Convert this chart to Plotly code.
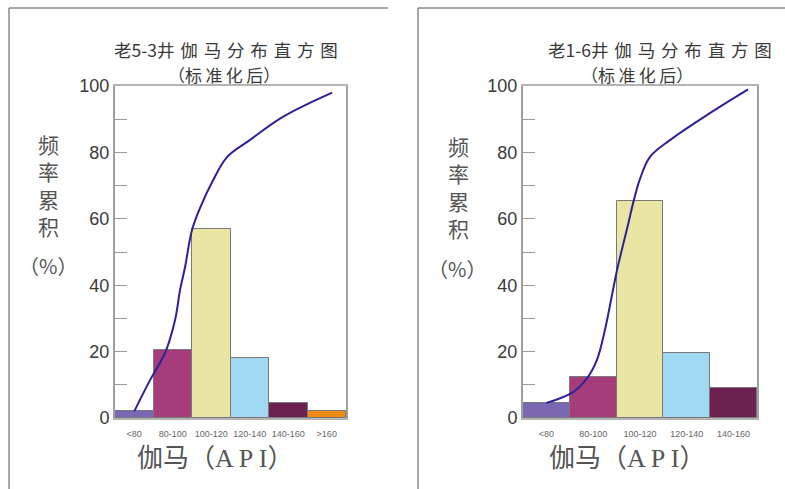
import plotly.graph_objects as go

# 老5-3井 gamma histogram (standardised)
left_categories = ["<80", "80-100", "100-120", "120-140", "140-160", ">160"]
left_freq = [2, 20.5, 57, 18, 4.5, 2]
left_colors = ["#7a68b2", "#a63c7c", "#e9e6a3", "#a2d9f2", "#6c2150", "#ef8a12"]
left_cum_x = [0, 0.41, 0.80, 1.06, 1.19, 1.32, 1.5, 1.71, 2.05, 2.41, 3.0, 3.86, 5.14]
left_cum_y = [2, 11.4, 19.6, 29.5, 38.6, 45.5, 56.6, 63.3, 71.7, 78.6, 83.7, 90.7, 98]

# 老1-6井 gamma histogram (standardised)
right_categories = ["<80", "80-100", "100-120", "120-140", "140-160"]
right_freq = [4.5, 12.3, 65.5, 19.6, 9]
right_colors = ["#7a68b2", "#a63c7c", "#e9e6a3", "#a2d9f2", "#6c2150"]
right_cum_x = [0, 0.57, 0.87, 1.08, 1.25, 1.51, 1.74, 1.87, 2.0, 2.21, 2.64, 3.5, 4.31]
right_cum_y = [4.5, 7.8, 12, 17.5, 26.5, 44.6, 58, 65.7, 72, 78.6, 83.7, 91.9, 99]

y_ticks = [0, 20, 40, 60, 80, 100]

W, H = 785, 489
CJK = "Noto Sans CJK SC"
TEXT = "#3a3a3a"
GREY = "#555555"
SP = "\u2004"   # three-per-em space between title characters
TH = "\u2009"   # thin space

fig = go.Figure()


def add_panel(cats, freq, colors, cx, cy, xa, ya):
    fig.add_trace(go.Bar(
        x=list(range(len(cats))), y=freq,
        marker=dict(color=colors, line=dict(color="#7a7a7a", width=1)),
        width=1.0, xaxis=xa, yaxis=ya, showlegend=False, hoverinfo="skip"))
    fig.add_trace(go.Scatter(
        x=cx, y=cy, mode="lines",
        line=dict(color="#2b2299", width=2, shape="spline", smoothing=1.0),
        xaxis=xa, yaxis=ya, showlegend=False, hoverinfo="skip"))


add_panel(left_categories, left_freq, left_colors, left_cum_x, left_cum_y, "x", "y")
add_panel(right_categories, right_freq, right_colors, right_cum_x, right_cum_y, "x2", "y2")


def xaxis_cfg(domain, cats, anchor):
    return dict(domain=domain, range=[-0.5, len(cats) - 0.5], tickvals=list(range(len(cats))),
                ticktext=cats, ticks="outside", ticklen=6, tickcolor="rgba(0,0,0,0)",
                tickfont=dict(family="Liberation Sans", size=9, color="#666"), showgrid=False,
                zeroline=False, showline=True, linecolor="#b4b4b4", linewidth=2, mirror=True,
                anchor=anchor, automargin=False, fixedrange=True)


def yaxis_cfg(anchor):
    return dict(domain=[1 - 418 / H, 1 - 86 / H], range=[0, 100], tickvals=y_ticks,
                ticks="inside", ticklen=12, tickcolor="#9a9a9a", tickwidth=1,
                minor=dict(ticks="inside", ticklen=12, tickcolor="#9a9a9a", dtick=10, tick0=0,
                           showgrid=False),
                tickfont=dict(family="Liberation Sans", size=18, color=TEXT), showgrid=False,
                zeroline=False, showline=True, linecolor="#a0a0a0", linewidth=2, mirror=True,
                anchor=anchor, automargin=False, fixedrange=True)


fig.update_layout(
    width=W, height=H, margin=dict(l=0, r=0, t=0, b=0, autoexpand=False),
    paper_bgcolor="white", plot_bgcolor="white", bargap=0,
    xaxis=xaxis_cfg([115 / W, 346 / W], left_categories, "y"),
    yaxis=yaxis_cfg("x"),
    xaxis2=xaxis_cfg([523 / W, 757 / W], right_categories, "y2"),
    yaxis2=yaxis_cfg("x2"),
)


def txt(x, y, s, size, color=TEXT, family=CJK):
    fig.add_annotation(x=x / W, y=1 - y / H, xref="paper", yref="paper", text=s, showarrow=False,
                       font=dict(family=family, size=size, color=color),
                       xanchor="center", yanchor="middle", align="center")


def spaced(s, sep):
    return sep.join(s)


# panel titles
txt(226, 49.5, "老5-3井" + SP + spaced("伽马分布直方图", SP), 17.5)
txt(224, 74.5, "（" + spaced("标准化后", TH) + "）", 17)
txt(660, 49.5, "老1-6井" + SP + spaced("伽马分布直方图", SP), 17.5)
txt(637, 74.5, "（" + spaced("标准化后", TH) + "）", 17)

# vertical y-axis titles
txt(48, 185, "<br>".join("频率累积"), 21, GREY)
txt(48, 265, "（%）", 20, GREY)
txt(458, 187, "<br>".join("频率累积"), 21, GREY)
txt(457, 268, "（%）", 20, GREY)

# x-axis titles
txt(215, 458, "伽马（A P I）", 26, GREY, "Liberation Serif, Noto Sans CJK SC")
txt(627, 458, "伽马（A P I）", 26, GREY, "Liberation Serif, Noto Sans CJK SC")

# panel frames
frame = dict(color="#8a8a8a", width=1.5)
for x0, y0, x1, y1 in [(9, 8, 388, 8), (9, 8, 9, 489), (418, 8, 785, 8), (418, 8, 418, 489)]:
    fig.add_shape(type="line", xref="paper", yref="paper", x0=x0 / W, y0=1 - y0 / H,
                  x1=x1 / W, y1=1 - y1 / H, line=frame)

fig.write_html("out.html")
